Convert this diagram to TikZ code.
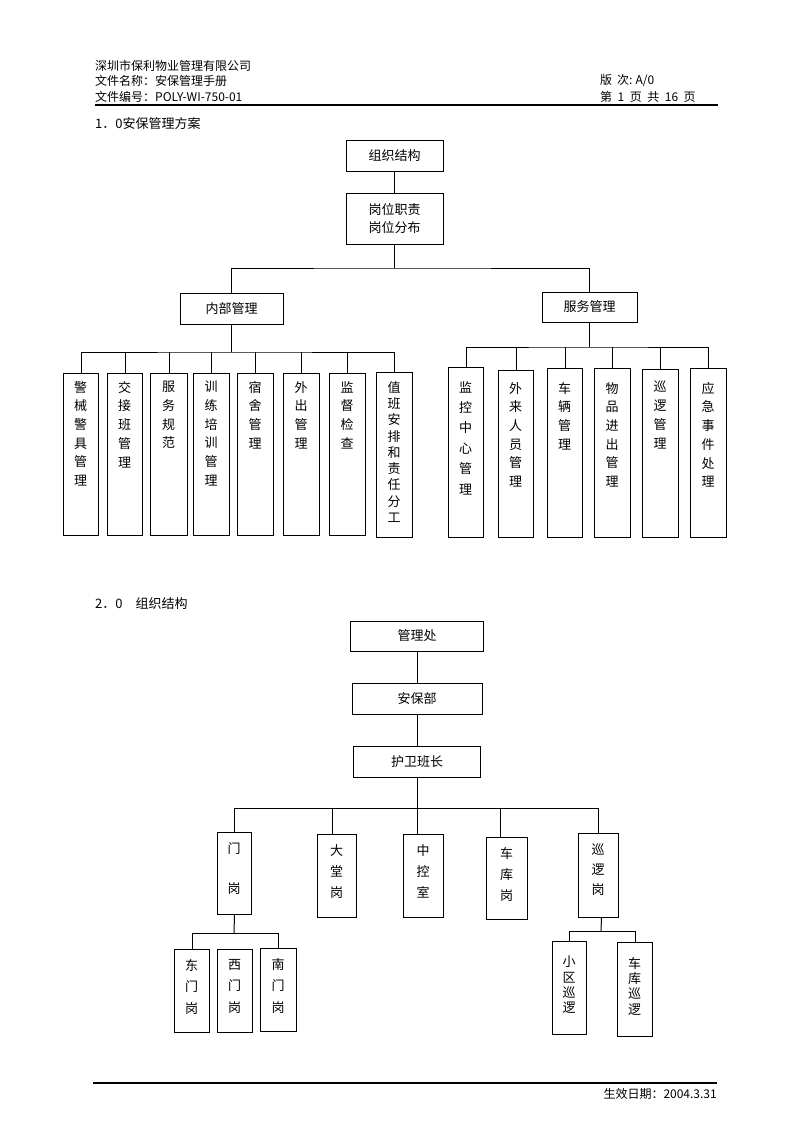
\documentclass[tikz,border=0pt]{standalone}
\usepackage{fontspec}
\setmainfont{Noto Sans CJK SC}
\tikzset{
  bxs/.style={draw, line width=1pt, inner sep=0pt},
  vt/.style={align=center, inner sep=0pt},
  hb/.style={draw, line width=1pt, inner sep=0pt, align=center, font=\fontsize{13}{18}\selectfont},
  conn/.style={line width=1pt},
  rule/.style={line width=1.3pt},
  hdr/.style={font=\fontsize{12}{14}\selectfont, inner sep=0pt},
  ttl/.style={font=\fontsize{13}{15}\selectfont, inner sep=0pt, anchor=west},
}
% #1 line spacing, #2 name, #3 left, #4 top, #5 right, #6 bottom, #7 centre of first character, #8 text
\newcommand\vbx[8][18.7]{%
  \node[bxs, minimum width={#5-#3}, minimum height={#6-#4}, anchor=north west] (#2) at (#3,#4) {};
  \node[vt, font=\fontsize{13}{#1}\selectfont, anchor=north] (#2t) at ({(#3+#5)/2},{#7-6}) {#8};}
\begin{document}
\begin{tikzpicture}[x=1pt,y=-1pt]
\fill[white] (0,0) rectangle (793,1122);
\useasboundingbox (0,0) rectangle (793,1122);

% header
\node[hdr, anchor=west] (h1) at (95,66) {深圳市保利物业管理有限公司};
\node[hdr, anchor=west] (h2) at (95,81) {文件名称：安保管理手册};
\node[hdr, anchor=west] (h3) at (95,97) {文件编号：POLY-WI-750-01};
\node[hdr, anchor=west] (h4) at (600,81) {版\hspace{5pt}次:\hspace{3pt}A/0};
\node[hdr, anchor=west] (h5) at (600,97) {第\hspace{5.5pt}1\hspace{5.5pt}页\hspace{5.5pt}共\hspace{5.5pt}16\hspace{5.5pt}页};
\coordinate (r1a) at (95,105);
\coordinate (r1b) at (718,105);
\draw[rule] (r1a) -- (r1b);

% section 1
\node[ttl] (t1) at (95,124) {1．0安保管理方案};

\node[hb, minimum width=97, minimum height=31] (a) at (394.5,155.5) {组织结构};
\node[hb, minimum width=97, minimum height=51] (b) at (394.5,218.5) {岗位职责\\岗位分布};
\node[hb, minimum width=103, minimum height=31] (n1) at (231.5,308.5) {内部管理};
\node[hb, minimum width=95, minimum height=30] (n2) at (589.5,307) {服务管理};
\coordinate (j1) at (394.5,268);
\draw[conn] (a) -- (b);
\draw[conn] (b.south) -- (j1);
\draw[conn] (n1.north) |- (j1) -| (n2.north);

\vbx{c1}{63}{373}{98}{535}{387}{警\\械\\警\\具\\管\\理}
\vbx{c2}{107}{373}{142}{535}{387}{交\\接\\班\\管\\理}
\vbx{c3}{150}{373}{187}{535}{387}{服\\务\\规\\范}
\vbx{c4}{193}{373}{229}{535}{387}{训\\练\\培\\训\\管\\理}
\vbx{c5}{237}{373}{273}{535}{387}{宿\\舍\\管\\理}
\vbx{c6}{283}{373}{319}{535}{387}{外\\出\\管\\理}
\vbx{c7}{329}{373}{365}{535}{387}{监\\督\\检\\查}
\vbx[16.3]{c8}{376}{372}{412}{537}{387}{值\\班\\安\\排\\和\\责\\任\\分\\工}
\coordinate (k1) at (231.5,352);
\draw[conn] (n1.south) -- (k1);
\draw[conn] (c1.north) |- (k1) -| (c8.north);
\foreach \c in {c2,c3,c4,c5,c6,c7} \draw[conn] (\c.north) -- (\c.north |- k1);

\vbx[20.4]{d1}{448}{367}{483}{537}{387}{监\\控\\中\\心\\管\\理}
\vbx{d2}{498}{370}{533}{537}{388}{外\\来\\人\\员\\管\\理}
\vbx{d3}{547}{368}{582}{537}{388}{车\\辆\\管\\理}
\vbx{d4}{594}{368}{630}{537}{388}{物\\品\\进\\出\\管\\理}
\vbx{d5}{642}{369}{678}{537}{387}{巡\\逻\\管\\理}
\vbx{d6}{690}{368}{726}{537}{388}{应\\急\\事\\件\\处\\理}
\coordinate (k2) at (589.5,347);
\draw[conn] (n2.south) -- (k2);
\draw[conn] (d1.north) |- (k2) -| (d6.north);
\foreach \c in {d2,d3,d4,d5} \draw[conn] (\c.north) -- (\c.north |- k2);

% section 2
\node[ttl] (t2) at (95,604) {2．0　组织结构};

\node[hb, minimum width=133, minimum height=30] (p1) at (417,636) {管理处};
\node[hb, minimum width=130, minimum height=31] (p2) at (417,698.5) {安保部};
\node[hb, minimum width=127, minimum height=31] (p3) at (417,761.5) {护卫班长};
\draw[conn] (p1) -- (p2);
\draw[conn] (p2) -- (p3);

\vbx[20]{g1}{217}{832}{251}{914}{848}{门\\[20pt]岗}
\vbx[21]{g2}{317}{834}{356}{917}{850}{大\\堂\\岗}
\vbx[21]{g3}{403}{834}{443}{917}{850}{中\\控\\室}
\vbx[21]{g4}{486}{837}{527}{919}{853}{车\\库\\岗}
\vbx[20]{g5}{578}{833}{618}{917}{850}{巡\\逻\\岗}
\coordinate (k3) at (417,808);
\draw[conn] (p3.south) -- (k3);
\draw[conn] (g1.north) |- (k3) -| (g5.north);
\draw[conn] ([xshift=-4.5pt]g2.north) -- ([xshift=-4.5pt]g2.north |- k3);
\draw[conn] ([xshift=-6pt]g3.north) -- ([xshift=-6pt]g3.north |- k3);
\draw[conn] ([xshift=-6.5pt]g4.north) -- ([xshift=-6.5pt]g4.north |- k3);

\vbx[21.5]{e1}{174}{949}{209}{1032}{965}{东\\门\\岗}
\vbx[21.5]{e2}{217}{949}{252}{1032}{965}{西\\门\\岗}
\vbx[21.5]{e3}{260}{948}{296}{1031}{964}{南\\门\\岗}
\coordinate (k4) at (234,933);
\draw[conn] (g1.south) -- (k4);
\draw[conn] (e1.north) |- (k4) -| (e3.north);

\vbx[15.3]{f1}{552}{941}{586}{1034}{962}{小\\区\\巡\\逻}
\vbx[15.3]{f2}{617}{942}{652}{1036}{963}{车\\库\\巡\\逻}
\coordinate (k5) at (601,931);
\draw[conn] ([xshift=3pt]g5.south) -- (k5);
\draw[conn] (f1.north) |- (k5) -| (f2.north);

% footer
\coordinate (r2a) at (93,1083);
\coordinate (r2b) at (717,1083);
\draw[rule] (r2a) -- (r2b);
\node[hdr, anchor=east] (ft) at (717,1094) {生效日期：2004.3.31};
\end{tikzpicture}
\end{document}
